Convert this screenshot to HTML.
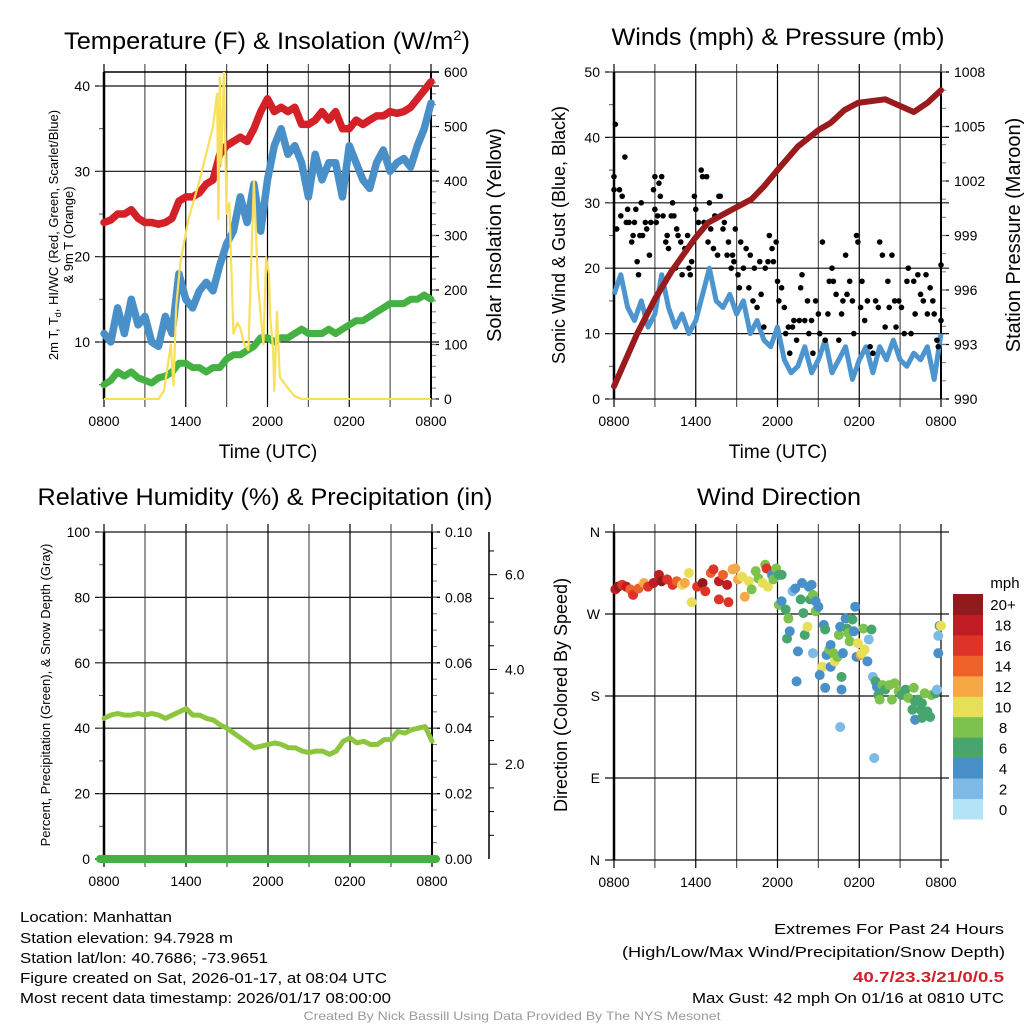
<!DOCTYPE html>
<html><head><meta charset="utf-8">
<style>
html,body{margin:0;padding:0;background:#fff;}
svg{display:block;font-family:"Liberation Sans",sans-serif;}
</style></head>
<body>
<svg id="fig" width="1024" height="1024" viewBox="0 0 1024 1024" xmlns="http://www.w3.org/2000/svg">
<g id="static">
<text x="267" y="49" font-size="24" text-anchor="middle" textLength="406" lengthAdjust="spacingAndGlyphs">Temperature (F) &amp; Insolation (W/m<tspan dy="-9" font-size="14">2</tspan><tspan dy="9">)</tspan></text>
<text x="778" y="45" font-size="24" text-anchor="middle" textLength="333" lengthAdjust="spacingAndGlyphs">Winds (mph) &amp; Pressure (mb)</text>
<text x="265" y="505" font-size="24" text-anchor="middle" textLength="455" lengthAdjust="spacingAndGlyphs">Relative Humidity (%) &amp; Precipitation (in)</text>
<text x="779" y="505" font-size="24" text-anchor="middle" textLength="164" lengthAdjust="spacingAndGlyphs">Wind Direction</text>
<text x="268" y="458" font-size="19" text-anchor="middle">Time (UTC)</text>
<text x="778" y="458" font-size="19" text-anchor="middle">Time (UTC)</text>
<text transform="translate(58,235) rotate(-90)" font-size="13" text-anchor="middle">2m T, T<tspan font-size="9" dy="3">d</tspan><tspan dy="-3">, HI/WC (Red, Green, Scarlet/Blue)</tspan></text>
<text transform="translate(73,235) rotate(-90)" font-size="13" text-anchor="middle">&amp; 9m T (Orange)</text>
<text transform="translate(501,235) rotate(-90)" font-size="20" text-anchor="middle">Solar Insolation (Yellow)</text>
<text transform="translate(565,235) rotate(-90)" font-size="18" text-anchor="middle">Sonic Wind &amp; Gust (Blue, Black)</text>
<text transform="translate(1020,235) rotate(-90)" font-size="20" text-anchor="middle">Station Pressure (Maroon)</text>
<text transform="translate(50,695) rotate(-90)" font-size="13" text-anchor="middle">Percent, Precipitation (Green), &amp; Snow Depth (Gray)</text>
<text transform="translate(567,695) rotate(-90)" font-size="18" text-anchor="middle">Direction (Colored By Speed)</text>
<g font-size="15">
<text x="20" y="922" textLength="152" lengthAdjust="spacingAndGlyphs">Location: Manhattan</text>
<text x="20" y="943" textLength="213" lengthAdjust="spacingAndGlyphs">Station elevation: 94.7928 m</text>
<text x="20" y="963" textLength="248" lengthAdjust="spacingAndGlyphs">Station lat/lon: 40.7686; -73.9651</text>
<text x="20" y="983" textLength="367" lengthAdjust="spacingAndGlyphs">Figure created on Sat, 2026-01-17, at 08:04 UTC</text>
<text x="20" y="1003" textLength="371" lengthAdjust="spacingAndGlyphs">Most recent data timestamp: 2026/01/17 08:00:00</text>
</g>
<g font-size="15" text-anchor="end">
<text x="1004" y="934" textLength="230" lengthAdjust="spacingAndGlyphs">Extremes For Past 24 Hours</text>
<text x="1005" y="957" textLength="383" lengthAdjust="spacingAndGlyphs">(High/Low/Max Wind/Precipitation/Snow Depth)</text>
<text x="1004" y="982" fill="#d0202a" font-weight="bold" textLength="151" lengthAdjust="spacingAndGlyphs">40.7/23.3/21/0/0.5</text>
<text x="1004" y="1003" textLength="312" lengthAdjust="spacingAndGlyphs">Max Gust: 42 mph On 01/16 at 0810 UTC</text>
</g>
<text x="512" y="1020" font-size="12" fill="#9a9a9a" text-anchor="middle" textLength="417" lengthAdjust="spacingAndGlyphs">Created By Nick Bassill Using Data Provided By The NYS Mesonet</text>
</g>
<defs><clipPath id="c1"><rect x="96" y="72" width="342" height="328"/></clipPath></defs>
<g id="dyn"></g>
</svg>
<script>
// ---------- DATA ----------
const halfHours = []; for (let i = 0; i <= 48; i++) halfHours.push(i * 0.5);
const tempValues = [24,24.3,25,25,25.5,24.5,24,24,23.8,24,24.5,26.5,27,27,27.5,28.5,29,32,33,33.5,34,33.5,35,37,38.5,37,37.5,37,37.5,35.5,35.5,36,37,36,37,35,35,36,35.5,36,36.5,36.5,37,36.8,37,37.5,38.5,39.5,40.5];
const windChillValues = [11,10,14,11,15,12,13,10,9.5,13,11,18,15,14,16,17,16,19,21.5,23,27,24,28.5,23,29,33,35,32,33,31,27,32,29,31,31,27,33,31,29,28,31,32.5,30,31,31.5,30.5,33,35,38];
const dewpointValues = [5,5.5,6.5,6,6.5,5.8,5.5,5.2,5.8,6,6.5,7.5,7.5,7,7,6.5,7,7,8,8.5,8.5,9,9.5,10.5,10.5,10,10.5,10.5,11,11.5,11,11,11,11.5,11,11.5,12,12.5,12.5,13,13.5,14,14.5,14.5,14.5,15,15,15.5,15];
const solarHours = [0,4.0,4.4,4.9,5.1,5.3,5.6,6.2,7.0,7.8,8.0,8.3,8.4,8.5,8.6,8.8,9.0,9.2,9.5,9.8,10.0,10.3,10.6,11.0,11.3,11.7,11.9,12.1,12.2,12.4,12.5,12.7,12.9,13.5,14.0,14.5,24];
const solarValues = [0,0,15,100,25,170,250,330,400,480,500,560,330,590,430,600,340,360,120,140,130,100,90,400,210,100,260,230,150,95,15,160,40,20,5,0,0];
const windValues = [16,19,14,12,15,11,13,19,14,11,13,10,12,16,20,15,14,16,13,15,10,12,9,8,11,6,4,5,8,4,6,9,4,6,8,3,6,8,4,8,6,9,6,5,7,6,8,3,10];
const gustHours = [0,0,0.1,0.2,0.4,0.5,0.6,0.8,0.9,1.0,1.1,1.3,1.4,1.5,1.6,1.7,1.8,1.9,2.0,2.1,2.3,2.4,2.6,2.7,2.9,3.0,3.0,3.1,3.2,3.3,3.4,3.5,3.6,3.8,3.9,4.0,4.2,4.3,4.4,4.5,4.6,4.7,4.9,5.0,5.2,5.4,5.5,5.6,5.7,5.8,5.9,6.0,6.1,6.2,6.4,6.5,6.6,6.8,6.9,7.0,7.1,7.3,7.4,7.6,7.7,7.8,8.0,8.1,8.3,8.4,8.6,8.7,8.8,8.9,9.1,9.2,9.3,9.5,9.7,9.9,10.0,10.2,10.3,10.5,10.7,10.8,11.0,11.1,11.3,11.4,11.6,11.7,11.9,12.0,12.1,12.3,12.5,12.6,12.8,12.9,13.1,13.2,13.4,13.6,13.7,13.8,14.0,14.2,14.3,14.5,14.6,14.8,15.0,15.1,15.3,15.5,15.7,15.8,16.0,16.1,16.3,16.5,16.7,16.8,17.0,17.1,17.3,17.5,17.6,17.8,17.9,18.1,18.2,18.4,18.6,18.8,19.0,19.2,19.4,19.5,19.7,19.9,20.1,20.2,20.4,20.6,20.7,20.9,21.1,21.3,21.5,21.6,21.8,22.0,22.1,22.3,22.5,22.7,22.9,23.0,23.2,23.4,23.5,23.7,23.8,24,24];
const gustValues = [32,34,42,26,32,28,31,37,27,29,27,24,25,27,29,21,19,25,30,25,27,26,22,27,32,34,29,27,28,33,31,34,28,24,25,23,28,30,28,20,26,25,24,19,23,25,20,19,21,24,31,29,25,27,35,34,27,34,24,30,26,23,28,22,31,31,26,27,22,24,20,22,21,26,19,17,24,20,23,17,22,15,20,14,21,16,11,20,21,25,23,21,24,18,15,17,14,10,11,7,11,12,9,12,17,19,12,15,10,12,7,15,13,10,24,9,13,18,20,18,16,9,13,15,22,16,18,15,10,25,24,14,18,12,15,8,7,15,14,24,22,11,18,14,22,15,11,15,14,10,18,20,10,18,13,19,16,15,19,13,17,15,13,9,8,12,20.5];
const pressureHours = [0,1.7,3.0,4.2,5.9,6.9,8.1,10.1,11.0,12.0,13.5,15.0,15.9,16.9,17.9,19.9,20.8,22.0,23.0,24];
const pressureValues = [990.7,993.6,995.5,997,998.8,999.7,1000.2,1001,1001.7,1002.6,1003.9,1004.8,1005.2,1005.9,1006.3,1006.5,1006.2,1005.8,1006.3,1007];
const rhValues = [43,44,44.5,44,44,44.5,44,44.5,44,43,44,45,46,44,44,43,42.5,41,40,38.5,37,35.5,34,34.5,35,35.5,35,34,34,33,32.5,33,33,32,33,36,37,35.5,36,35,35,36.5,36.5,39,38.5,39.5,40,40.5,36];
const dirHours = [0.1,0.3,0.6,0.9,1.2,1.4,1.8,2.2,2.5,2.9,3.3,3.5,3.9,4.3,4.6,5.0,5.2,5.5,5.7,6.1,6.5,6.7,7.1,7.3,7.7,7.7,8.0,8.3,8.4,8.7,8.9,9.1,9.4,9.6,9.9,10.1,10.4,10.6,10.9,11.1,11.2,11.3,11.6,11.7,11.9,12.1,12.3,12.1,12.3,12.6,12.8,12.7,12.9,13.1,13.3,13.7,13.8,13.9,14.0,14.2,13.5,13.4,14.3,14.4,14.5,14.6,14.8,14.8,15.0,14.6,15.3,15.1,15.4,15.5,15.6,15.8,15.9,15.9,16.1,16.2,16.4,16.5,16.6,16.7,16.8,17.0,17.1,17.2,17.3,17.5,17.6,17.7,17.8,17.9,18.1,18.2,18.3,18.4,18.6,18.7,18.9,19.0,19.2,19.3,19.4,19.5,19.7,19.9,20.2,20.4,20.6,20.9,21.1,21.4,21.6,21.9,22.0,22.1,22.3,22.5,22.6,22.8,23.0,23.2,23.3,23.6,23.7,23.8,23.8,23.9,24.0,16.6,19.1,22.1,22.6,15.5,16.7];
const dirDegrees = [297,300,302,300,297,291,298,304,300,304,313,306,308,302,306,302,304,315,283,300,304,295,315,319,306,286,313,302,283,319,320,308,311,289,306,297,317,309,304,324,320,300,313,308,320,313,313,280,284,275,265,243,251,295,298,286,304,271,247,256,229,196,300,286,302,291,284,273,278,227,212,203,258,253,225,231,236,212,227,218,223,247,256,201,227,265,254,249,240,264,251,278,223,238,225,227,254,231,218,242,253,201,196,190,181,176,192,187,192,176,194,185,181,187,178,165,189,174,176,165,172,183,163,157,181,183,187,227,246,257,257,146,112,154,156,189,187];
const dirSpeeds = [18,20,16,18,14,16,14,12,16,18,18,20,16,16,14,10,12,10,10,16,20,16,14,16,18,16,14,18,16,12,12,12,10,12,10,8,8,8,10,8,16,10,4,8,8,6,6,8,4,6,8,6,4,2,4,6,4,6,6,10,4,4,4,6,4,8,4,8,4,2,10,4,4,6,4,8,4,4,8,10,8,8,4,6,4,4,6,8,8,6,4,4,4,10,12,10,8,10,4,2,6,2,6,4,6,8,8,6,8,8,8,8,6,6,8,6,8,6,6,6,6,8,6,6,8,6,2,4,2,4,10,2,2,4,6,4,4];
const speedBinLabels = ['0','2','4','6','8','10','12','14','16','18','20+'];
const speedBinColors = ['#b3e3f7','#7dbbe6','#4a90c8','#48a56d','#7cc24c','#e6df57','#f6a845','#ee6229','#de3428','#c01c24','#901a1c'];
const timeTickLabels = ['0800','1400','2000','0200','0800'];
const dirTickLabels = ['N','W','S','E','N'];

// ---------- HELPERS ----------
const NS = 'http://www.w3.org/2000/svg';
const dyn = document.getElementById('dyn');
function mk(tag, attrs, parent) {
  const e = document.createElementNS(NS, tag);
  for (const k in attrs) e.setAttribute(k, attrs[k]);
  (parent || dyn).appendChild(e);
  return e;
}
function lin(d0, d1, r0, r1) { return v => r0 + (v - d0) * (r1 - r0) / (d1 - d0); }

function panel(name, x0, x1, y0, y1, left, right) {
  const g = mk('g', {});
  
  
  const X = lin(0, 24, x0, x1);
  for (let h = 0; h <= 24; h += 3) {
    const l = mk('line', {x1: X(h), x2: X(h), y1: y0 - 8, y2: y1 + 8, stroke: (h % 6 === 0) ? '#000' : '#555', 'stroke-width': 1.2}, g);
    
    
  }
  timeTickLabels.forEach((lab, i) => {
    const t = mk('text', {x: X(i * 6), y: y1 + 27, 'font-size': 14, 'text-anchor': 'middle'}, g);
    t.textContent = lab;
    
    
  });
  const YL = lin(left.min, left.max, y1, y0);
  left.ticks.forEach((v, i) => {
    const l = mk('line', {x1: x0 - 9, x2: x1 + 8, y1: YL(v), y2: YL(v), stroke: '#111', 'stroke-width': 1.2}, g);
    
    
    const t = mk('text', {x: x0 - 14, y: YL(v) + 5, 'font-size': 14, 'text-anchor': 'end'}, g);
    t.textContent = left.labels ? left.labels[i] : v;
    
    
  });
  (left.minor || []).forEach(v => { mk('line', {x1: x0 - 5, x2: x0, y1: YL(v), y2: YL(v), stroke: '#555'}, g); });
  mk('line', {x1: x0, x2: x0, y1: y0, y2: y1, stroke: '#000', 'stroke-width': 2.5}, g);
  let YR = null;
  if (right) {
    YR = lin(right.min, right.max, y1, y0);
    right.ticks.forEach((v, i) => {
      mk('line', {x1: x1, x2: x1 + 8, y1: YR(v), y2: YR(v), stroke: '#000', 'stroke-width': 1.2}, g);
      const t = mk('text', {x: x1 + 13, y: YR(v) + 5, 'font-size': 14}, g);
      t.textContent = right.labels[i];
      
      
    });
    (right.minor || []).forEach(v => { mk('line', {x1: x1, x2: x1 + 5, y1: YR(v), y2: YR(v), stroke: '#777'}, g); });
    mk('line', {x1: x1, x2: x1, y1: y0, y2: y1, stroke: '#000', 'stroke-width': 2}, g);
  }
  return {g, X, YL, YR};
}
function pathD(xs, ys) { return xs.map((x, i) => (i ? 'L' : 'M') + x.toFixed(1) + ',' + ys[i].toFixed(1)).join(''); }
function range(a, b, s) { const r = []; for (let v = a; v <= b + 1e-9; v += s) r.push(+v.toFixed(4)); return r; }

// ---------- PANEL 1 ----------
const p1 = panel('temperature-panel', 104, 431, 72, 399,
  {min: 3.32, max: 41.64, ticks: [10,20,30,40], minor: range(5, 40, 5)},
  {min: 0, max: 600, ticks: range(0, 600, 100), labels: ['0','100','200','300','400','500','600'], minor: range(0, 600, 20)});
mk('line', {x1: 104, x2: 439, y1: 72, y2: 72, stroke: '#000', 'stroke-width': 1.5}, p1.g);
const tc = mk('g', {'clip-path': 'url(#c1)'}, p1.g);
[[dewpointValues, '#45b142', 'dewpoint-line', 7], [windChillValues, '#4a90c8', 'wind-chill-line', 7.5], [tempValues, '#d42027', 'temperature-line', 7.5]].forEach(([vals, col, nm, w]) => {
  const p = mk('path', {d: pathD(halfHours.map(p1.X), vals.map(p1.YL)), fill: 'none', stroke: col, 'stroke-width': w, 'stroke-linejoin': 'round', 'stroke-linecap': 'round'}, tc);
  
  
});
const sol = mk('path', {d: pathD(solarHours.map(p1.X), solarValues.map(p1.YR)), fill: 'none', stroke: '#f8e05a', 'stroke-width': 2.2, 'stroke-linejoin': 'round'}, tc);



// ---------- PANEL 2 ----------
const p2 = panel('winds-panel', 614, 941, 72, 399,
  {min: 0, max: 50, ticks: [0,10,20,30,40,50], minor: range(0, 50, 5)},
  {min: 990, max: 1008, ticks: [990,993,996,999,1002,1005,1008], labels: ['990','993','996','999','1002','1005','1008'], minor: range(990, 1008, 1)});
const wl = mk('path', {d: pathD(halfHours.map(p2.X), windValues.map(p2.YL)), fill: 'none', stroke: '#4d95cf', 'stroke-width': 5, 'stroke-linejoin': 'round'}, p2.g);


gustHours.forEach((h, i) => {
  const c = mk('circle', {cx: p2.X(h), cy: p2.YL(gustValues[i]), r: 2.8, fill: '#000'}, p2.g);
  
  
});
const pl = mk('path', {d: pathD(pressureHours.map(p2.X), pressureValues.map(p2.YR)), fill: 'none', stroke: '#9a1b1e', 'stroke-width': 6, 'stroke-linejoin': 'round', 'stroke-linecap': 'round'}, p2.g);



// ---------- PANEL 3 ----------
const p3 = panel('humidity-panel', 104, 432, 532, 859,
  {min: 0, max: 100, ticks: [0,20,40,60,80,100], minor: range(0, 100, 10)},
  {min: 0, max: 0.1, ticks: [0,0.02,0.04,0.06,0.08,0.1], labels: ['0.00','0.02','0.04','0.06','0.08','0.10'], minor: range(0, 0.1, 0.005)});
const rl = mk('path', {d: pathD(halfHours.map(p3.X), rhValues.map(p3.YL)), fill: 'none', stroke: '#8cc63f', 'stroke-width': 5, 'stroke-linejoin': 'round', 'stroke-linecap': 'round'}, p3.g);


const prl = mk('line', {x1: 100, x2: 436, y1: 859, y2: 859, stroke: '#45b142', 'stroke-width': 8, 'stroke-linecap': 'round'}, p3.g);


const snowAxis = mk('g', {}, p3.g);


mk('line', {x1: 489, x2: 489, y1: 532, y2: 859, stroke: '#000', 'stroke-width': 1.5}, snowAxis);
const YS = lin(0, 6.9, 859, 532);
range(0.5, 6.5, 0.5).forEach(v => {
  mk('line', {x1: 489, x2: (v % 2 === 0) ? 497 : 494, y1: YS(v), y2: YS(v), stroke: '#000'}, snowAxis);
});
['2.0','4.0','6.0'].forEach((lab, i) => {
  const t = mk('text', {x: 505, y: YS((i + 1) * 2) + 5, 'font-size': 14}, snowAxis);
  t.textContent = lab;
});

// ---------- PANEL 4 ----------
const p4 = panel('wind-direction-panel', 614, 941, 532, 860,
  {min: 0, max: 360, ticks: [360,270,180,90,0], labels: dirTickLabels},
  null);
dirHours.forEach((h, i) => {
  const bin = Math.min(10, Math.floor(dirSpeeds[i] / 2));
  const c = mk('circle', {cx: p4.X(h), cy: p4.YL(dirDegrees[i]), r: 5, fill: speedBinColors[bin]}, p4.g);
  
  
});
const cb = mk('g', {});


const cbTop = 594, cbH = 225 / 11;
speedBinLabels.forEach((lab, i) => {
  const k = 10 - i;
  const y = cbTop + k * cbH;
  const r = mk('rect', {x: 953, y: y, width: 30, height: cbH + 0.5, fill: speedBinColors[i]}, cb);
  
  
  const t = mk('text', {x: 1003, y: y + cbH / 2 + 6, 'font-size': 15, 'text-anchor': 'middle'}, cb);
  t.textContent = lab;
  
  
});
const mph = mk('text', {x: 1005, y: 588, 'font-size': 15, 'text-anchor': 'middle'}, cb);
mph.textContent = 'mph';


</script>
</body></html>
